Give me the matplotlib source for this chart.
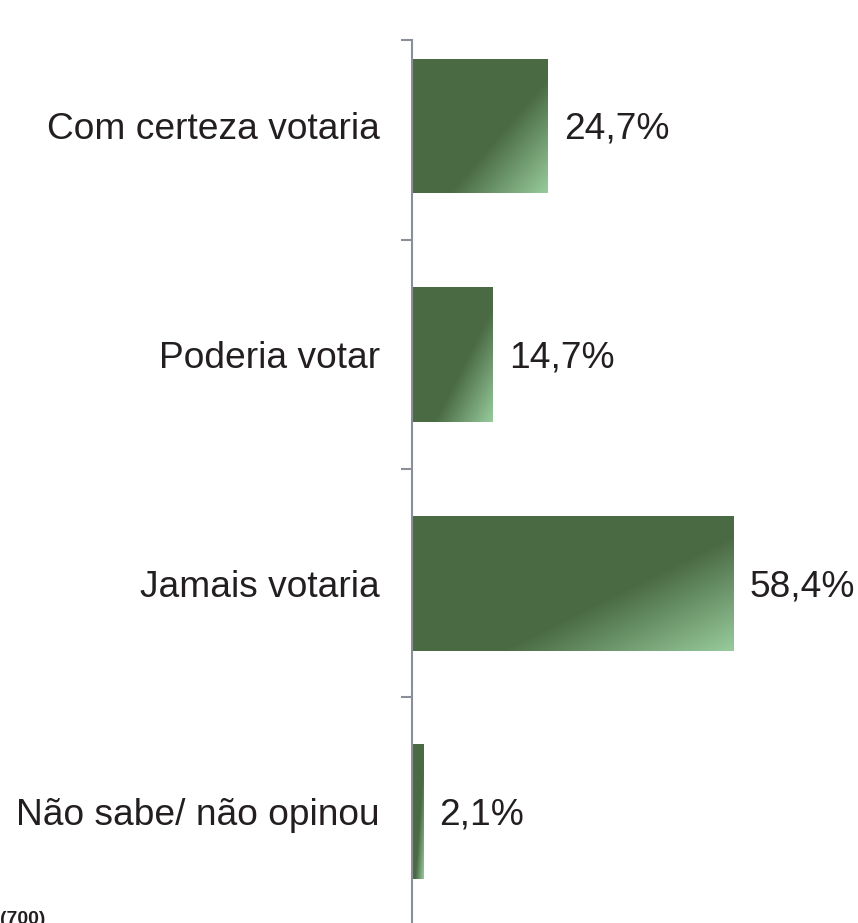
import numpy as np
import matplotlib.pyplot as plt
from matplotlib.colors import LinearSegmentedColormap
from matplotlib.patches import Rectangle

# Dados do gráfico
categorias = ["Com certeza votaria", "Poderia votar", "Jamais votaria", "Não sabe/ não opinou"]
valores = [24.7, 14.7, 58.4, 2.1]
rotulos = ["24,7%", "14,7%", "58,4%", "2,1%"]
nota_base = "(700)"

plt.rcParams["font.family"] = ["Liberation Sans", "DejaVu Sans"]

W, H, DPI = 858, 923, 100
fig = plt.figure(figsize=(W / DPI, H / DPI), dpi=DPI)

# eixo: de y=40 até a borda inferior, x a partir de 412
ax = fig.add_axes([412 / W, 0, 1 - 412 / W, 1 - 40 / H])

top = -0.376
cmap = LinearSegmentedColormap.from_list("verde", ["#4a6a43", "#4a6a43", "#97cb9c"], N=256)

# gradiente diagonal (canto inferior direito mais claro)
nu, nv = 200, 100
u = np.linspace(0, 1, nu)[None, :]
v = np.linspace(0, 1, nv)[:, None]
s = (0.85 * u + 0.72 * v - 0.958) / (1.57 - 0.958)
s = np.clip(s, 0, 1)
grad = 0.5 + 0.5 * s

altura = 0.59
for i, (val, lab) in enumerate(zip(valores, rotulos)):
    y0 = i - altura / 2
    rect = Rectangle((0, y0), val, altura, facecolor="none", edgecolor="none")
    ax.add_patch(rect)
    im = ax.imshow(grad, cmap=cmap, vmin=0, vmax=1, aspect="auto",
                   extent=(0, val, i + altura / 2, y0), interpolation="bilinear",
                   zorder=2)
    im.set_clip_path(rect)
    ax.annotate(lab, xy=(val, i), xytext=(11.5, -2.5), textcoords="offset points",
                ha="left", va="center", fontsize=26.7, color="#231f20")

ax.set_xlim(0, 81.1)
ax.set_ylim(3.487, top)

ax.set_yticks(range(len(categorias)))
ax.set_yticklabels(categorias, fontsize=26.7, color="#231f20")
ax.tick_params(axis="y", which="major", length=0, pad=23)
ax.set_yticks([top, 0.5, 1.5, 2.5], minor=True)
ax.tick_params(axis="y", which="minor", length=8, width=1.5, color="#8a8e98")
ax.set_xticks([])

for side in ["top", "right", "bottom"]:
    ax.spines[side].set_visible(False)
ax.spines["left"].set_color("#8a8e98")
ax.spines["left"].set_linewidth(1.5)

fig.text(0.0, 12 / H, nota_base, ha="left", va="top", fontsize=14,
         fontweight="bold", color="#231f20")

fig.savefig("out.png", dpi=DPI)
